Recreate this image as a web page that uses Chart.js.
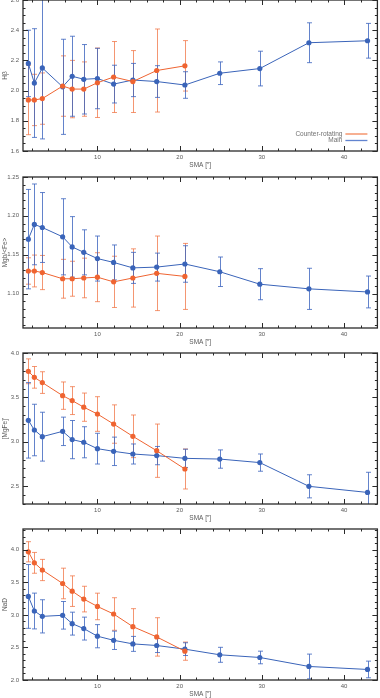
<!DOCTYPE html>
<html><head><meta charset="utf-8">
<script src="https://cdn.jsdelivr.net/npm/chart.js@4.4.1/dist/chart.umd.min.js"></script>
<style>
html,body{margin:0;padding:0;background:#fff;}
body{width:380px;height:698px;overflow:hidden;position:relative;}
.p{position:absolute;left:0;width:380px;}
</style></head><body>
<div class="p" id="w0"><canvas id="c0"></canvas></div>
<div class="p" id="w1"><canvas id="c1"></canvas></div>
<div class="p" id="w2"><canvas id="c2"></canvas></div>
<div class="p" id="w3"><canvas id="c3"></canvas></div>
<script>
// ---- data ----
const sma = [1.6, 2.33, 3.3, 5.77, 6.93, 8.34, 10.0, 11.97, 14.31, 17.21, 20.64, 24.88, 29.75, 35.72, 42.85];
const xTicks = [10, 20, 30, 40];

const hbMain    = [2.18, 2.05, 2.15, 2.025, 2.095, 2.075, 2.08, 2.043, 2.07, 2.06, 2.037, 2.115, 2.146, 2.317, 2.33];
const hbMainErr = [0.22, 0.36, 0.47, 0.315, 0.265, 0.23, 0.20, 0.125, 0.11, 0.105, 0.088, 0.075, 0.115, 0.132, 0.115];
const hbCR      = [1.938, 1.938, 1.947, 2.03, 2.01, 2.01, 2.052, 2.09, 2.06, 2.133, 2.164];
const hbCRErr   = [0.23, 0.17, 0.17, 0.20, 0.19, 0.18, 0.23, 0.235, 0.205, 0.275, 0.167];
const hbTicks   = [1.6, 1.8, 2.0, 2.2, 2.4, 2.6];

const mgfeRatioMain    = [1.170, 1.189, 1.185, 1.173, 1.160, 1.153, 1.145, 1.140, 1.133, 1.134, 1.138, 1.128, 1.112, 1.106, 1.102];
const mgfeRatioMainErr = [0.064, 0.052, 0.045, 0.049, 0.039, 0.029, 0.029, 0.0225, 0.020, 0.018, 0.0235, 0.019, 0.020, 0.0265, 0.0205];
const mgfeRatioCR      = [1.129, 1.129, 1.127, 1.119, 1.119, 1.120, 1.121, 1.115, 1.120, 1.126, 1.122];
const mgfeRatioCRErr   = [0.017, 0.0205, 0.022, 0.025, 0.0225, 0.0255, 0.0315, 0.033, 0.0375, 0.048, 0.0425];
const mgfeRatioTicks   = [1.10, 1.15, 1.20, 1.25];

const mgfeMain    = [3.242, 3.133, 3.058, 3.118, 3.025, 2.995, 2.923, 2.893, 2.863, 2.845, 2.814, 2.806, 2.766, 2.499, 2.43];
const mgfeMainErr = [0.425, 0.29, 0.275, 0.16, 0.215, 0.175, 0.173, 0.16, 0.113, 0.103, 0.103, 0.103, 0.097, 0.13, 0.227];
const mgfeCR      = [3.794, 3.726, 3.667, 3.52, 3.464, 3.39, 3.313, 3.20, 3.062, 2.90, 2.694];
const mgfeCRErr   = [0.14, 0.122, 0.122, 0.154, 0.157, 0.159, 0.195, 0.216, 0.24, 0.30, 0.225];
const mgfeTicks   = [2.5, 3.0, 3.5, 4.0];

const nadMain    = [3.284, 3.06, 2.978, 2.994, 2.866, 2.79, 2.673, 2.61, 2.555, 2.53, 2.474, 2.387, 2.346, 2.208, 2.162];
const nadMainErr = [0.49, 0.275, 0.255, 0.212, 0.176, 0.176, 0.178, 0.141, 0.115, 0.108, 0.098, 0.115, 0.097, 0.19, 0.128];
const nadCR      = [3.97, 3.80, 3.69, 3.483, 3.365, 3.243, 3.13, 3.014, 2.82, 2.662, 2.443];
const nadCRErr   = [0.155, 0.16, 0.163, 0.235, 0.235, 0.197, 0.204, 0.25, 0.276, 0.295, 0.14];
const nadTicks   = [2.0, 2.5, 3.0, 3.5, 4.0];

const seriesNames = ['Counter-rotating', 'Main'];
const xTitle = 'SMA [″]';

// ---- style ----
const F = '"Liberation Sans", Arial, sans-serif';
const ORANGE = '#ef6431';
const BLUE = '#3a64b9';
const ORANGE_ERR = 'rgba(240,110,60,0.72)';
const BLUE_ERR = 'rgba(60,100,190,0.8)';
const TXT = '#5a5a5a';
const FRAME = '#2a2a2a';

const panels = [
  {title: 'Hβ', main: hbMain, mainErr: hbMainErr, cr: hbCR, crErr: hbCRErr, ticks: hbTicks, min: 1.6, max: 2.6, dec: 1, minor: 0.05, top: 0, legend: true},
  {title: 'Mgb/<Fe>', main: mgfeRatioMain, mainErr: mgfeRatioMainErr, cr: mgfeRatioCR, crErr: mgfeRatioCRErr, ticks: mgfeRatioTicks, min: 1.0556, max: 1.25, dec: 2, minor: 0.01, top: 177},
  {title: "[MgFe]'", main: mgfeMain, mainErr: mgfeMainErr, cr: mgfeCR, crErr: mgfeCRErr, ticks: mgfeTicks, min: 2.3, max: 4.0, dec: 1, minor: 0.1, top: 353},
  {title: 'NaD', main: nadMain, mainErr: nadMainErr, cr: nadCR, crErr: nadCRErr, ticks: nadTicks, min: 2.0, max: 4.32, dec: 1, minor: 0.1, top: 529}
];

const PAD_TOP = 10, PLOT_H = 151, XAX_H = 18, YAX_W = 23;

const framePlugin = {
  id: 'frameTicks',
  beforeDatasetsDraw(chart) {
    const {ctx, chartArea: a, scales: {x, y}} = chart;
    ctx.save();
    ctx.beginPath(); ctx.rect(a.left, a.top, a.right - a.left, a.bottom - a.top); ctx.clip();
    chart.data.datasets.forEach(ds => {
      ctx.strokeStyle = ds.errColor; ctx.lineWidth = 1;
      ds.data.forEach((p, i) => {
        const e = ds.err[i];
        const px = Math.round(x.getPixelForValue(p.x)) + 0.5;
        const y1 = y.getPixelForValue(p.y - e), y2 = y.getPixelForValue(p.y + e);
        ctx.beginPath();
        ctx.moveTo(px, y1); ctx.lineTo(px, y2);
        ctx.moveTo(px - 2.5, y1); ctx.lineTo(px + 2.5, y1);
        ctx.moveTo(px - 2.5, y2); ctx.lineTo(px + 2.5, y2);
        ctx.stroke();
      });
    });
    ctx.restore();
  },
  afterDraw(chart, args, opts) {
    const {ctx, chartArea: a, scales: {x, y}} = chart;
    ctx.save();
    ctx.strokeStyle = FRAME; ctx.lineWidth = 1.3;
    ctx.strokeRect(a.left, a.top, a.right - a.left, a.bottom - a.top);
    ctx.lineWidth = 1;
    ctx.beginPath();
    for (let v = Math.ceil(x.min / 2) * 2; v <= x.max; v += 2) {
      const major = xTicks.includes(v);
      const L = major ? 5 : 2.5;
      const px = Math.round(x.getPixelForValue(v)) + 0.5;
      ctx.moveTo(px, a.bottom); ctx.lineTo(px, a.bottom - L);
      ctx.moveTo(px, a.top); ctx.lineTo(px, a.top + L);
    }
    const st = opts.minor;
    for (let k = Math.ceil(y.min / st - 1e-6); k * st <= y.max + 1e-9; k++) {
      const v = k * st;
      const major = opts.ticks.some(t => Math.abs(t - v) < st / 10);
      const L = major ? 5 : 2.5;
      const py = Math.round(y.getPixelForValue(v)) + 0.5;
      ctx.moveTo(a.left, py); ctx.lineTo(a.left + L, py);
      ctx.moveTo(a.right, py); ctx.lineTo(a.right - L, py);
    }
    ctx.stroke();
    if (opts.legend) {
      ctx.font = '6.5px ' + F;
      ctx.fillStyle = '#707070';
      ctx.textAlign = 'right'; ctx.textBaseline = 'middle';
      const tx = a.right - 35, y1 = a.bottom - 17, y2 = a.bottom - 10.5;
      ctx.fillText(seriesNames[0], tx, y1);
      ctx.fillText(seriesNames[1], tx, y2);
      ctx.lineWidth = 2; ctx.strokeStyle = 'rgba(244,150,110,0.75)';
      ctx.beginPath(); ctx.moveTo(a.right - 32, y1); ctx.lineTo(a.right - 10, y1); ctx.stroke();
      ctx.lineWidth = 1.3; ctx.strokeStyle = 'rgba(70,110,200,0.85)';
      ctx.beginPath(); ctx.moveTo(a.right - 32, y2); ctx.lineTo(a.right - 10, y2); ctx.stroke();
    }
    ctx.restore();
  }
};

panels.forEach((P, idx) => {
  const wrap = document.getElementById('w' + idx);
  wrap.style.top = (P.top - PAD_TOP) + 'px';
  wrap.style.height = (PAD_TOP + PLOT_H + XAX_H) + 'px';
  const mk = (vals, errs, label, color, errColor) => ({
    label,
    data: vals.map((v, i) => ({x: sma[i], y: v})),
    err: errs, errColor,
    borderColor: color, backgroundColor: color,
    borderWidth: 1, pointRadius: 2.6, pointBorderWidth: 0, pointHoverRadius: 2.6,
    tension: 0, fill: false
  });
  new Chart(document.getElementById('c' + idx), {
    type: 'line',
    data: {datasets: [
      mk(P.cr, P.crErr, seriesNames[0], ORANGE, ORANGE_ERR),
      mk(P.main, P.mainErr, seriesNames[1], BLUE, BLUE_ERR)
    ]},
    options: {
      responsive: true, maintainAspectRatio: false, animation: false,
      layout: {padding: {top: PAD_TOP, right: 1, left: 0, bottom: 0}},
      plugins: {legend: {display: false}, tooltip: {enabled: false},
        frameTicks: {ticks: P.ticks, minor: P.minor, legend: !!P.legend}},
      scales: {
        x: {type: 'linear', min: 0.95, max: 44.05,
          grid: {display: false, drawTicks: false}, border: {display: false},
          afterBuildTicks: s => { s.ticks = xTicks.map(v => ({value: v})); },
          ticks: {font: {family: F, size: 6}, color: TXT, padding: 3, maxRotation: 0, autoSkip: false,
            callback: v => String(v)},
          title: {display: true, text: xTitle, font: {family: F, size: 6.5}, color: TXT, padding: 0},
          afterFit: s => { s.height = XAX_H; }
        },
        y: {type: 'linear', min: P.min, max: P.max,
          grid: {display: false, drawTicks: false}, border: {display: false},
          afterBuildTicks: s => { s.ticks = P.ticks.map(v => ({value: v})); },
          ticks: {font: {family: F, size: 6}, color: TXT, padding: 4, autoSkip: false,
            callback: v => Number(v).toFixed(P.dec)},
          title: {display: true, text: P.title, font: {family: F, size: 6.5}, color: TXT, padding: {top: 1, bottom: 0}},
          afterFit: s => { s.width = YAX_W; }
        }
      }
    },
    plugins: [framePlugin]
  });
});
</script>
</body></html>
